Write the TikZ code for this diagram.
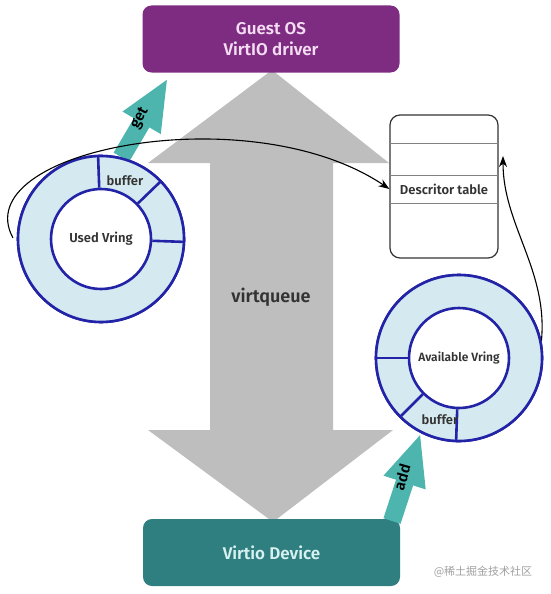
\documentclass[tikz,border=0pt]{standalone}
\usepackage{fontspec}
\setmainfont{Fira Sans}[BoldFont={Fira Sans SemiBold}]
\newfontfamily\cjkfont{Noto Sans CJK SC}
\usetikzlibrary{arrows.meta}
\definecolor{guestpurple}{HTML}{7E2B82}
\definecolor{guesttext}{HTML}{F4DDF2}
\definecolor{devteal}{HTML}{2F7E80}
\definecolor{devtext}{HTML}{D6F1EF}
\definecolor{pushteal}{HTML}{4DB5AE}
\definecolor{vqgrey}{HTML}{BEBEBE}
\definecolor{ringblue}{HTML}{2323A8}
\definecolor{ringfill}{HTML}{D5EAF0}
\definecolor{textgrey}{HTML}{333333}
\definecolor{markgrey}{HTML}{A0A0A0}

\begin{document}
\begin{tikzpicture}[x=1pt,y=-1pt,>={Stealth[length=11pt,width=8pt]}]
  \tikzstyle{VQbox}=[rectangle,rounded corners=9pt,minimum width=257pt,minimum height=67pt,align=center,font=\bfseries\fontsize{17}{21}\selectfont]
  \tikzstyle{VRing}=[circle,draw=ringblue,line width=2.6pt,fill=ringfill,inner sep=0pt,minimum size=166pt]
  \tikzstyle{VHole}=[circle,draw=ringblue,line width=2.6pt,fill=white,inner sep=0pt,minimum size=100pt,text=textgrey,font=\bfseries\fontsize{13}{15}\selectfont]
  \tikzstyle{VQpush}=[pushteal,line width=18pt,-{Triangle[length=52pt,width=40pt]}]
  \tikzstyle{VQpushtext}=[inner sep=0pt,text=black,font=\bfseries\fontsize{15}{17}\selectfont]
  \tikzstyle{VQlabel}=[text=textgrey,inner sep=1pt,font=\bfseries\fontsize{13}{15}\selectfont]
  \useasboundingbox (0,0) rectangle (550,594);

  % virtqueue
  \fill[vqgrey] (272,70) -- (389,163) -- (333,163) -- (333,430) -- (393,430) -- (273,522)
    -- (148,430) -- (210,430) -- (210,163) -- (148,163) -- cycle;
  \node[text=textgrey,font=\bfseries\fontsize{18}{20}\selectfont] (vq) at (271,297) {virtqueue};

  % guest and device
  \node[VQbox, fill=guestpurple, text=guesttext] (guest) at (271,39) {Guest OS\\VirtIO driver};
  \node[VQbox, fill=devteal, text=devtext] (dev) at (271.5,552.5) {Virtio Device};

  % rings
  \node[VRing] (used) at (101,239) {};
  \node[VRing] (avail) at (459,358) {};

  % get / add
  \coordinate (gettip) at (168,78);
  \coordinate (addtail) at (392,521);
  \draw[VQpush] (used.76) -- (gettip);
  \draw[VQpush] (addtail) -- (avail.243);
  \node[VQpushtext, rotate=61] (get) at (140,118) {get};
  \node[VQpushtext, rotate=74] (add) at (402,477) {add};

  \node[VRing] at (used.center) {};
  \node[VHole] (usedhole) at (used.center) {Used Vring};
  \foreach \a in {92,44,-2}
    \draw[ringblue, line width=2.6pt] (usedhole.\a) -- (used.\a);
  \node[VQlabel] (usedbuf) at (125,181) {buffer};

  \node[VRing] at (avail.center) {};
  \node[VHole, font=\bfseries\fontsize{12}{14}\selectfont] (availhole) at (avail.center) {Available Vring};
  \foreach \a in {180,225,268}
    \draw[ringblue, line width=2.6pt] (availhole.\a) -- (avail.\a);
  \node[VQlabel] (availbuf) at (440,420) {buffer};

  % descriptor table
  \node[draw=textgrey, line width=1.2pt, rounded corners=10pt, minimum width=108pt, minimum height=143pt] (desc) at (444,186.5) {};
  \node[VQlabel] (descrow) at (444,189) {Descritor table};
  \foreach \y in {143,175,203}
    \draw[gray, line width=0.9pt] (desc.west |- 0,\y) -- (desc.east |- 0,\y);

  % edges
  \coordinate (usedtail) at (13,238);
  \coordinate (descin) at (503,156);
  \draw[->, line width=1.1pt] (usedtail) .. controls (-35,150) and (250,95) .. (desc.west |- descrow);
  \draw[->, line width=1.1pt] (avail.12) .. controls (548,270) and (503,225) .. (descin);

  \node[text=markgrey, font=\cjkfont\fontsize{11}{13}\selectfont] (mark) at (483,572) {@稀土掘金技术社区};
\end{tikzpicture}
\end{document}
